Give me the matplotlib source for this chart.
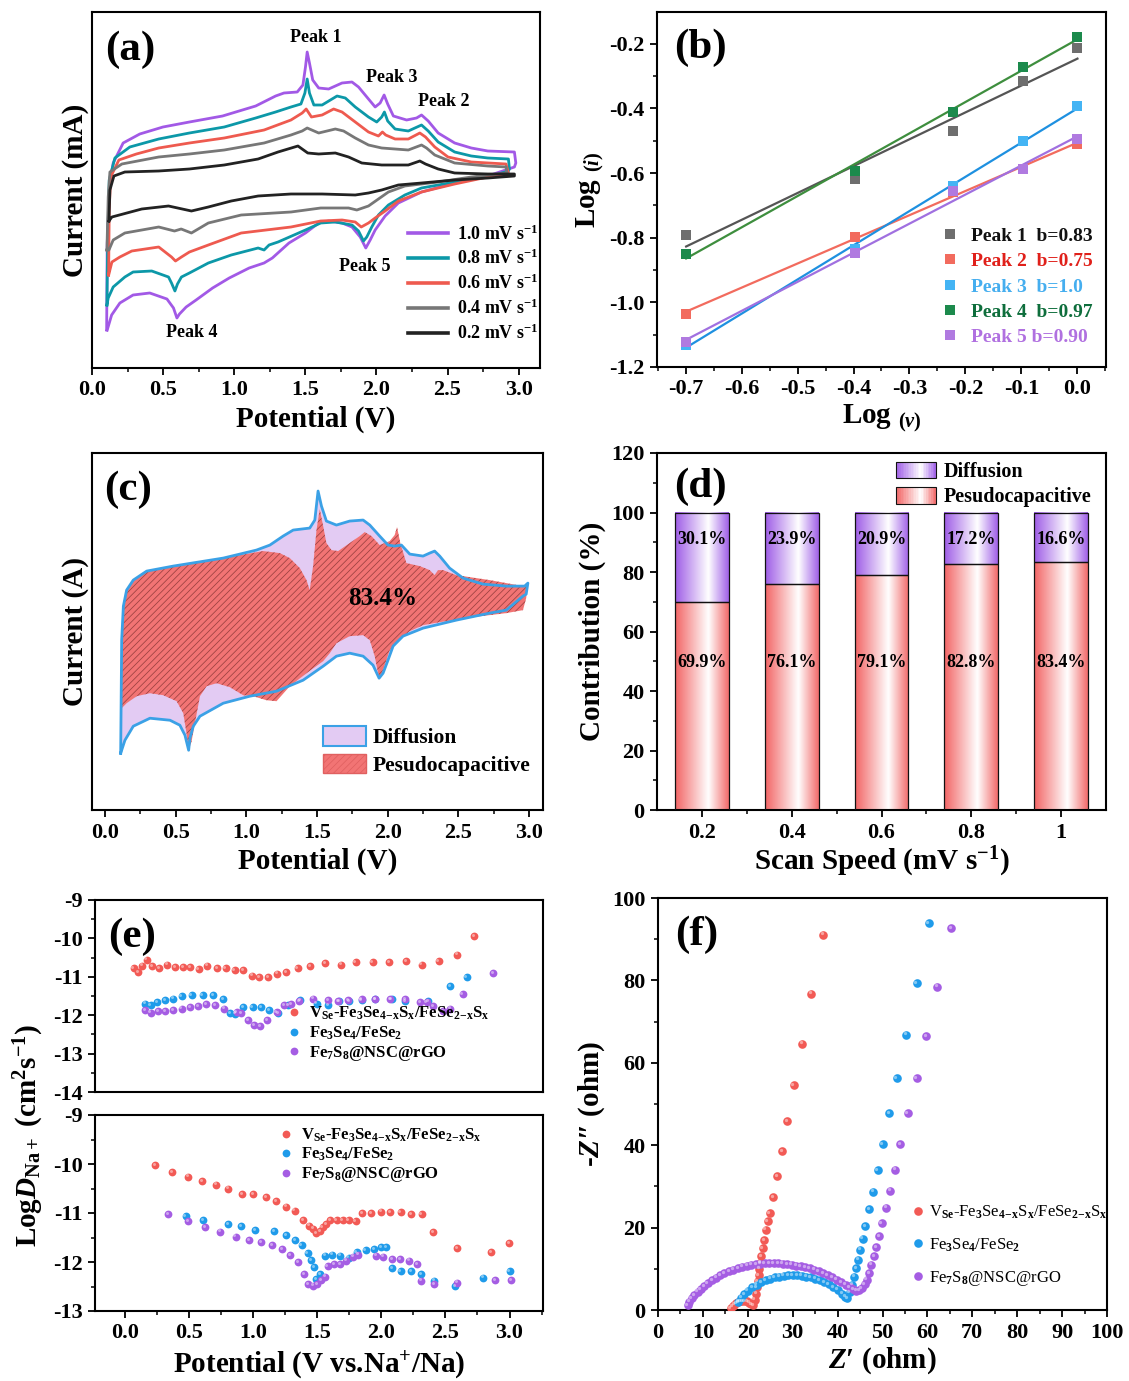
import numpy as np
import matplotlib
matplotlib.use('Agg')
import matplotlib.pyplot as plt
from matplotlib.colors import LinearSegmentedColormap
from matplotlib.patches import Rectangle, Patch
from matplotlib.legend_handler import HandlerBase
from matplotlib.ticker import MultipleLocator, FixedLocator
import matplotlib.transforms as mtransforms

plt.rcParams.update({
    'font.family': ['Liberation Serif', 'DejaVu Serif'],
    'font.weight': 'bold',
    'axes.labelweight': 'bold',
    'axes.unicode_minus': False,
    'mathtext.fontset': 'custom',
    'mathtext.rm': 'Liberation Serif:bold',
    'mathtext.it': 'Liberation Serif:italic:bold',
    'mathtext.bf': 'Liberation Serif:bold',
    'hatch.linewidth': 0.55,
    'axes.linewidth': 1.5,
})

# ---------------- (a) CV curves at different scan rates ----------------
cv_labels = ['1.0 mV s$^{-1}$', '0.8 mV s$^{-1}$', '0.6 mV s$^{-1}$', '0.4 mV s$^{-1}$', '0.2 mV s$^{-1}$']
cv10_v = [0.103,0.107,0.126,0.149,0.219,0.336,0.499,0.685,0.918,1.151,1.291,1.350,1.443,1.483,1.501,1.513,1.529,1.552,1.594,1.664,1.758,1.828,1.874,1.944,1.991,2.026,2.054,2.079,2.119,2.212,2.282,2.317,2.364,2.434,2.550,2.667,2.783,2.970,2.980,
          2.970,2.783,2.550,2.317,2.154,2.061,1.991,1.956,1.925,1.886,1.828,1.758,1.664,1.594,1.501,1.385,1.268,1.210,1.105,0.965,0.848,0.732,0.662,0.615,0.597,0.573,0.527,0.406,0.289,0.196,0.138,0.107]
cv10_i = [-0.50,0.37,0.97,1.17,1.37,1.46,1.53,1.58,1.64,1.74,1.84,1.87,1.88,1.95,2.13,2.28,2.17,2.00,1.92,1.91,1.97,1.98,1.93,1.81,1.73,1.77,1.85,1.76,1.64,1.60,1.62,1.65,1.59,1.47,1.37,1.32,1.29,1.28,1.17,
          1.13,1.04,0.97,0.88,0.77,0.64,0.50,0.40,0.32,0.43,0.53,0.57,0.59,0.57,0.47,0.37,0.22,0.17,0.12,0.02,-0.08,-0.20,-0.27,-0.34,-0.38,-0.28,-0.19,-0.13,-0.15,-0.23,-0.35,-0.50]
cv08_v = [0.105,0.110,0.121,0.161,0.266,0.469,0.685,0.930,1.151,1.291,1.399,1.469,1.497,1.513,1.529,1.560,1.618,1.723,1.781,1.851,1.944,2.002,2.037,2.056,2.079,2.131,2.224,2.317,2.364,2.434,2.550,2.667,2.783,2.928,2.935,
          2.928,2.783,2.550,2.317,2.200,2.084,2.014,1.967,1.932,1.909,1.874,1.828,1.711,1.608,1.501,1.308,1.245,1.210,1.168,0.979,0.818,0.685,0.629,0.601,0.583,0.559,0.538,0.420,0.289,0.231,0.149,0.114,0.105]
cv08_i = [-0.25,0.37,1.00,1.22,1.33,1.41,1.47,1.53,1.62,1.68,1.73,1.76,1.87,2.01,1.87,1.75,1.75,1.84,1.82,1.73,1.63,1.58,1.63,1.68,1.59,1.51,1.49,1.55,1.49,1.38,1.28,1.24,1.22,1.21,1.11,
          1.09,1.03,0.98,0.92,0.85,0.75,0.65,0.53,0.43,0.39,0.49,0.55,0.58,0.57,0.50,0.38,0.35,0.30,0.32,0.25,0.17,0.07,0.03,-0.04,-0.11,-0.03,0.03,0.09,0.08,0.03,-0.07,-0.18,-0.25]
cv06_v = [0.117,0.121,0.131,0.189,0.312,0.469,0.685,0.930,1.210,1.399,1.478,1.506,1.543,1.618,1.699,1.758,1.851,1.944,2.014,2.042,2.065,2.131,2.224,2.305,2.345,2.410,2.503,2.667,2.911,2.928,
          2.928,2.783,2.550,2.317,2.154,2.061,1.991,1.944,1.893,1.851,1.758,1.608,1.399,1.049,0.818,0.685,0.629,0.587,0.559,0.469,0.280,0.196,0.140,0.117]
cv06_i = [0.05,0.70,1.03,1.20,1.26,1.32,1.37,1.42,1.50,1.60,1.67,1.71,1.63,1.65,1.71,1.68,1.58,1.48,1.44,1.48,1.45,1.41,1.41,1.47,1.43,1.33,1.23,1.18,1.16,1.07,
          1.06,1.03,0.96,0.88,0.79,0.69,0.62,0.57,0.53,0.58,0.60,0.59,0.53,0.47,0.35,0.28,0.23,0.19,0.23,0.33,0.29,0.23,0.18,0.05]
cv04_v = [0.105,0.114,0.126,0.210,0.469,0.685,0.930,1.210,1.399,1.478,1.513,1.594,1.711,1.769,1.851,1.944,2.037,2.224,2.317,2.352,2.410,2.550,2.783,2.911,2.918,
          2.911,2.667,2.434,2.200,2.084,2.014,1.944,1.862,1.804,1.608,1.399,1.049,0.818,0.699,0.627,0.580,0.469,0.231,0.149,0.119,0.105]
cv04_i = [0.30,0.83,1.08,1.16,1.23,1.26,1.30,1.37,1.45,1.49,1.52,1.47,1.51,1.49,1.42,1.35,1.32,1.30,1.35,1.32,1.25,1.17,1.14,1.13,1.07,
          1.07,1.03,0.98,0.94,0.88,0.81,0.74,0.70,0.72,0.72,0.68,0.65,0.57,0.47,0.51,0.49,0.53,0.47,0.40,0.30,0.30]
cv02_v = [0.119,0.126,0.154,0.231,0.469,0.685,0.930,1.168,1.308,1.448,1.517,1.594,1.711,1.804,1.897,2.037,2.224,2.305,2.345,2.434,2.550,2.783,2.970,
          2.970,2.783,2.550,2.317,2.154,2.037,1.944,1.851,1.618,1.399,1.168,0.979,0.818,0.699,0.538,0.350,0.140,0.119]
cv02_i = [0.59,0.90,1.04,1.08,1.09,1.11,1.15,1.21,1.28,1.34,1.27,1.26,1.27,1.23,1.17,1.15,1.15,1.19,1.16,1.11,1.07,1.06,1.06,
          1.04,1.02,1.00,0.97,0.95,0.90,0.87,0.85,0.86,0.86,0.84,0.79,0.73,0.69,0.74,0.71,0.63,0.59]
peak_names = ['Peak 1', 'Peak 3', 'Peak 2', 'Peak 5', 'Peak 4']

# ---------------- (b) log(i) vs log(v) ----------------
scan_rates = [0.2, 0.4, 0.6, 0.8, 1.0]
b_labels = ['Peak 1  b=0.83', 'Peak 2  b=0.75', 'Peak 3  b=1.0', 'Peak 4  b=0.97', 'Peak 5 b=0.90']
logi_p1 = [-0.793, -0.619, -0.469, -0.314, -0.213]
logi_p2 = [-1.035, -0.798, -0.658, -0.588, -0.510]
logi_p3 = [-1.131, -0.835, -0.640, -0.500, -0.393]
logi_p4 = [-0.851, -0.593, -0.410, -0.272, -0.179]
logi_p5 = [-1.123, -0.846, -0.655, -0.588, -0.495]

# ---------------- (c) capacitive contribution at 1.0 mV/s ----------------
c_total_v = [0.111,0.118,0.130,0.153,0.200,0.295,0.483,0.837,1.072,1.167,1.261,1.332,1.449,1.485,1.508,1.532,1.567,1.638,1.732,1.827,1.874,1.944,2.003,2.050,2.098,2.157,2.251,2.298,2.333,2.369,2.439,2.534,2.675,2.840,2.970,2.993,2.981,
             2.958,2.840,2.722,2.486,2.251,2.109,2.039,2.003,1.968,1.940,1.897,1.827,1.732,1.638,1.544,1.402,1.214,1.025,0.837,0.672,0.625,0.601,0.592,0.566,0.530,0.460,0.318,0.200,0.141,0.111]
c_total_i = [-0.80,0.33,0.67,0.83,0.93,1.02,1.07,1.15,1.23,1.28,1.37,1.43,1.45,1.53,1.82,1.67,1.52,1.48,1.52,1.53,1.48,1.37,1.28,1.27,1.28,1.19,1.17,1.20,1.22,1.17,1.05,0.95,0.89,0.87,0.87,0.90,0.79,
             0.77,0.63,0.60,0.53,0.45,0.37,0.27,0.13,0.00,-0.05,0.08,0.17,0.20,0.17,0.07,-0.07,-0.18,-0.23,-0.30,-0.43,-0.53,-0.65,-0.77,-0.62,-0.52,-0.47,-0.45,-0.53,-0.67,-0.80]
c_cap_v = [0.111,0.118,0.130,0.153,0.200,0.295,0.483,0.837,0.955,1.119,1.237,1.308,1.379,1.426,1.449,1.473,1.497,1.520,1.544,1.567,1.603,1.650,1.732,1.803,1.838,1.886,1.944,2.015,2.050,2.067,2.090,2.133,2.227,2.298,2.333,2.357,2.392,2.486,2.722,2.958,2.993,
           2.981,2.958,2.840,2.604,2.369,2.251,2.157,2.086,2.015,1.968,1.940,1.909,1.874,1.827,1.732,1.638,1.591,1.544,1.426,1.308,1.214,1.143,1.049,0.978,0.884,0.790,0.719,0.672,0.636,0.613,0.592,0.577,0.554,0.507,0.412,0.318,0.224,0.153,0.118,0.111]
c_cap_i = [-0.53,0.33,0.67,0.83,0.93,1.02,1.07,1.15,1.18,1.22,1.20,1.15,1.05,0.93,0.83,1.07,1.43,1.64,1.47,1.30,1.23,1.22,1.30,1.37,1.41,1.37,1.28,1.32,1.38,1.46,1.30,1.10,1.07,1.03,0.98,1.03,1.03,0.98,0.93,0.87,0.90,
           0.75,0.63,0.60,0.56,0.51,0.48,0.42,0.34,0.23,0.03,-0.05,0.17,0.33,0.38,0.37,0.30,0.20,0.12,0.00,-0.13,-0.28,-0.27,-0.23,-0.22,-0.14,-0.10,-0.13,-0.23,-0.50,-0.68,-0.77,-0.60,-0.40,-0.28,-0.22,-0.20,-0.23,-0.30,-0.35,-0.53]
c_percent = '83.4%'

# ---------------- (d) contribution bars ----------------
speeds = ['0.2', '0.4', '0.6', '0.8', '1']
pseudo = [69.9, 76.1, 79.1, 82.8, 83.4]
diffusion = [30.1, 23.9, 20.9, 17.2, 16.6]

# ---------------- (e) GITT diffusion coefficients ----------------
e_names = [r'V$_{\mathrm{Se}}$-Fe$_{\mathrm{3}}$Se$_{\mathrm{4}}$$_{\mathrm{-x}}$S$_{\mathrm{x}}$/FeSe$_{\mathrm{2}}$$_{\mathrm{-x}}$S$_{\mathrm{x}}$',
           r'Fe$_{\mathrm{3}}$Se$_{\mathrm{4}}$/FeSe$_{\mathrm{2}}$',
           r'Fe$_{\mathrm{7}}$S$_{\mathrm{8}}$@NSC@rGO']
e1_red_v = [0.068,0.101,0.137,0.170,0.211,0.266,0.329,0.389,0.452,0.507,0.575,0.644,0.718,0.786,0.855,0.923,0.992,1.049,1.118,1.186,1.260,1.348,1.444,1.562,1.685,1.800,1.932,2.063,2.192,2.315,2.447,2.589,2.726]
e1_red_d = [-10.77,-10.88,-10.71,-10.55,-10.73,-10.77,-10.68,-10.75,-10.75,-10.75,-10.80,-10.71,-10.77,-10.77,-10.83,-10.83,-10.97,-11.01,-11.01,-10.92,-10.88,-10.77,-10.73,-10.64,-10.68,-10.62,-10.61,-10.61,-10.60,-10.68,-10.60,-10.42,-9.94]
e1_blue_v = [0.157,0.201,0.253,0.313,0.378,0.443,0.521,0.607,0.690,0.768,0.820,0.859,0.924,0.997,1.062,1.127,1.197,1.275,1.366,1.496,1.587,1.673,1.751,1.847,1.951,2.081,2.185,2.367,2.536,2.666]
e1_blue_d = [-11.70,-11.73,-11.65,-11.61,-11.57,-11.51,-11.48,-11.48,-11.48,-11.59,-11.94,-11.96,-11.79,-11.79,-11.79,-11.87,-11.94,-11.74,-11.61,-11.70,-11.73,-11.63,-11.63,-11.61,-11.59,-11.59,-11.63,-11.64,-11.25,-11.00]
e1_pur_v = [0.157,0.201,0.261,0.313,0.378,0.443,0.508,0.573,0.633,0.703,0.773,0.872,0.904,0.963,1.007,1.054,1.111,1.184,1.241,1.296,1.358,1.470,1.587,1.665,1.743,1.847,1.951,2.068,2.185,2.302,2.354,2.406,2.484,2.536,2.635,2.874]
e1_pur_d = [-11.87,-11.93,-11.89,-11.89,-11.87,-11.83,-11.79,-11.77,-11.72,-11.74,-11.83,-11.92,-11.94,-12.13,-12.26,-12.28,-12.13,-11.92,-11.74,-11.72,-11.63,-11.57,-11.60,-11.63,-11.61,-11.59,-11.59,-11.59,-11.59,-11.65,-11.65,-11.77,-11.89,-11.83,-11.46,-10.91]
e2_red_v = [0.238,0.370,0.493,0.603,0.712,0.808,0.912,1.000,1.101,1.178,1.260,1.323,1.392,1.438,1.471,1.493,1.521,1.542,1.570,1.603,1.652,1.699,1.745,1.800,1.849,1.918,2.000,2.068,2.151,2.233,2.315,2.403,2.589,2.858,2.995]
e2_red_d = [-10.03,-10.16,-10.26,-10.35,-10.42,-10.50,-10.61,-10.61,-10.68,-10.76,-10.87,-10.95,-11.15,-11.26,-11.32,-11.41,-11.37,-11.29,-11.22,-11.15,-11.15,-11.15,-11.15,-11.17,-11.00,-11.00,-10.97,-10.98,-10.98,-11.02,-11.02,-11.39,-11.71,-11.80,-11.62]
e2_blue_v = [0.474,0.611,0.808,0.904,1.014,1.164,1.260,1.329,1.378,1.425,1.452,1.474,1.493,1.521,1.562,1.616,1.679,1.745,1.808,1.877,1.945,2.000,2.036,2.082,2.151,2.233,2.310,2.411,2.575,2.795,3.000]
e2_blue_d = [-11.07,-11.14,-11.22,-11.27,-11.35,-11.37,-11.45,-11.55,-11.65,-11.82,-11.96,-12.11,-12.35,-12.25,-11.87,-11.85,-11.87,-11.91,-11.80,-11.76,-11.74,-11.69,-11.69,-12.13,-12.18,-12.19,-12.25,-12.38,-12.49,-12.32,-12.19]
e2_pur_v = [0.337,0.493,0.625,0.745,0.863,0.967,1.060,1.151,1.225,1.290,1.351,1.397,1.427,1.466,1.499,1.529,1.562,1.581,1.630,1.679,1.726,1.781,1.822,1.959,2.014,2.082,2.145,2.219,2.282,2.310,2.411,2.589,2.890,3.014]
e2_pur_d = [-11.03,-11.17,-11.29,-11.38,-11.48,-11.55,-11.60,-11.66,-11.73,-11.86,-12.00,-12.25,-12.45,-12.48,-12.45,-12.37,-12.30,-12.08,-12.04,-12.05,-11.97,-11.89,-11.85,-11.87,-11.89,-11.94,-11.94,-11.97,-12.04,-12.38,-12.45,-12.42,-12.37,-12.37]

# ---------------- (f) Nyquist plots ----------------
f_red_x = [16.2,16.6,17.0,17.4,17.8,18.3,18.8,19.3,19.8,20.3,20.8,21.2,21.5,21.8,22.0,22.2,22.4,22.6,22.8,23.0,23.3,23.6,24.0,24.4,24.9,25.6,26.5,27.6,28.8,30.2,32.1,34.1,36.8]
f_red_y = [0.5,0.9,1.3,1.6,1.9,2.1,2.2,2.2,2.1,1.8,1.4,1.2,2.5,4.0,5.5,7.0,8.5,10.0,11.5,13.0,15.0,17.0,19.5,21.5,23.5,27.4,32.5,38.6,45.9,54.5,64.6,76.8,91.1]
f_blue_x = [17.9,18.5,19.2,20.0,21.0,22.0,23.0,24.0,25.0,26.0,27.0,28.0,29.0,30.0,31.0,32.0,33.0,34.0,35.0,36.0,37.0,38.0,39.0,40.0,41.0,41.7,42.1,42.7,43.3,43.7,44.1,44.6,45.0,45.6,46.2,47.1,47.9,48.9,50.0,51.5,53.2,55.3,57.6,60.3]
f_blue_y = [2.0,3.0,3.9,4.7,5.5,6.1,6.7,7.2,7.6,7.9,8.1,8.3,8.4,8.4,8.4,8.3,8.1,7.9,7.6,7.2,6.8,6.2,5.6,4.9,4.0,3.2,2.8,4.3,6.1,8.1,10.2,12.2,14.6,17.3,20.3,24.4,28.7,33.9,40.2,47.7,56.3,66.8,79.3,93.9]
f_pur_x = [6.6,7.0,7.5,8.1,8.8,9.5,10.3,11.1,12.0,12.9,13.8,14.8,15.8,16.8,17.8,18.8,19.8,20.8,21.8,22.8,23.8,24.8,25.8,26.8,27.8,28.8,29.8,30.8,31.8,32.8,33.8,34.8,35.8,36.8,37.8,38.8,39.8,40.8,41.8,42.7,43.5,44.2,44.8,45.4,46.0,46.5,47.0,47.5,48.1,48.6,49.2,49.8,50.8,51.7,52.8,54.0,55.6,57.6,59.7,62.2,65.3]
f_pur_y = [1.2,2.0,2.8,3.6,4.4,5.1,5.8,6.5,7.2,7.8,8.4,8.9,9.4,9.8,10.2,10.5,10.8,11.0,11.1,11.2,11.3,11.3,11.3,11.3,11.2,11.1,11.0,10.8,10.6,10.4,10.1,9.8,9.4,9.0,8.5,8.0,7.4,6.8,6.1,5.5,5.0,4.7,4.8,5.3,6.2,7.4,8.9,11.0,13.0,15.2,17.9,21.1,24.8,29.0,34.1,40.2,47.7,56.3,66.4,78.5,92.7]

# ======================================================================
W, H = 1129, 1381
fig = plt.figure(figsize=(W / 100, H / 100), dpi=100)


def box(x0, y0, x1, y1):
    return [x0 / W, 1 - y1 / H, (x1 - x0) / W, (y1 - y0) / H]


TICK = 16
LAB = 21


def style(ax, xmaj=None, xmin=None, ymaj=None, ymin=None, noy=False):
    ax.tick_params(which='major', direction='out', length=5, width=1.3, labelsize=TICK,
                   top=False, right=False, pad=4)
    ax.tick_params(which='minor', direction='out', length=3, width=1.1, top=False, right=False)
    if xmaj: ax.xaxis.set_major_locator(MultipleLocator(xmaj))
    if xmin: ax.xaxis.set_minor_locator(MultipleLocator(xmin))
    if ymaj: ax.yaxis.set_major_locator(MultipleLocator(ymaj))
    if ymin: ax.yaxis.set_minor_locator(MultipleLocator(ymin))
    if noy:
        ax.set_yticks([])
        ax.yaxis.set_minor_locator(FixedLocator([]))
    for lbl in ax.get_xticklabels() + ax.get_yticklabels():
        lbl.set_fontweight('bold')


def letter(ax, s, fx, fy):
    ax.text(fx, fy, s, transform=ax.transAxes, fontsize=31, fontweight='bold', ha='center', va='center')


# ---------------- (a) ----------------
axa = fig.add_axes(box(92, 12, 540, 368))
cv_colors = ['#A259E6', '#0C98A8', '#EE5A4F', '#777777', '#222222']
cv_data = [(cv10_v, cv10_i), (cv08_v, cv08_i), (cv06_v, cv06_i), (cv04_v, cv04_i), (cv02_v, cv02_i)]
for (v, i), col, lab in zip(cv_data, cv_colors, cv_labels):
    axa.plot(v, i, color=col, lw=2.0, label=lab, solid_joinstyle='round')
axa.set_xlim(0.0, 3.15)
axa.set_ylim(-0.88, 2.68)
style(axa, 0.5, 0.25, noy=True)
axa.set_xlabel('Potential (V)', fontsize=LAB, labelpad=4)
axa.set_ylabel('Current (mA)', fontsize=LAB, labelpad=2)
peak_pos = [(1.573, 2.42), (2.105, 2.02), (2.476, 1.78), (1.916, 0.13), (0.70, -0.53)]
for name, (px, py) in zip(peak_names, peak_pos):
    axa.text(px, py, name, fontsize=13, fontweight='bold', ha='center', va='center')
leg = axa.legend(loc='lower right', bbox_to_anchor=(1.02, 0.04), frameon=False, fontsize=13,
                 handlelength=2.2, labelspacing=0.3, handletextpad=0.5, borderaxespad=0.2)
for l in leg.get_lines():
    l.set_linewidth(2.6)
letter(axa, '(a)', 0.085, 0.893)

# ---------------- (b) ----------------
axb = fig.add_axes(box(657, 12, 1106, 367))
logv = np.log10(scan_rates)
b_series = [logi_p1, logi_p2, logi_p3, logi_p4, logi_p5]
b_mcol = ['#6E6E6E', '#F26B5E', '#44B4F4', '#1C8A4C', '#B07AE0']
b_lcol = ['#555555', '#F26B5E', '#1E90E0', '#3E8E3E', '#A070E0']
b_tcol = ['#111111', '#E0201A', '#45AEEF', '#0E6E3C', '#B070E0']
handles = []
for ys, mc, lc, lab in zip(b_series, b_mcol, b_lcol, b_labels):
    k, c = np.polyfit(logv, ys, 1)
    xx = np.array([logv.min(), logv.max()])
    axb.plot(xx, k * xx + c, color=lc, lw=1.6, zorder=2)
    h, = axb.plot(logv, ys, 's', color=mc, ms=6.5, mew=0, zorder=3, label=lab)
    handles.append(h)
axb.set_xlim(-0.751, 0.051)
axb.set_ylim(-1.2, -0.102)
style(axb, 0.1, 0.05, 0.2, 0.1)
axb.set_xlabel(r'Log $_{(\mathit{v})}$', fontsize=LAB, labelpad=2)
axb.set_ylabel(r'Log $_{(\mathit{i})}$', fontsize=LAB, labelpad=2)
legb = axb.legend(handles=handles, loc='lower right', bbox_to_anchor=(1.0, 0.02), frameon=False,
                  fontsize=14, handlelength=0.9, handletextpad=0.6, labelspacing=0.40, borderaxespad=0.3)
for t, col in zip(legb.get_texts(), b_tcol):
    t.set_color(col)
letter(axb, '(b)', 0.096, 0.899)

# ---------------- (c) ----------------
axc = fig.add_axes(box(92, 453, 543, 810))
axc.fill(c_total_v, c_total_i, facecolor='#E3CBF3', edgecolor='none', zorder=1)
axc.fill(c_cap_v, c_cap_i, facecolor='#F27474', edgecolor='none', zorder=2)
axc.fill(c_cap_v, c_cap_i, facecolor='none', edgecolor='#9A4040', hatch='/////', lw=0, zorder=3)
axc.plot(c_total_v, c_total_i, color='#3BA1E6', lw=2.0, zorder=4)
axc.text(1.968, 0.75, c_percent, fontsize=18, fontweight='bold', ha='center', va='center', zorder=5)
axc.set_xlim(-0.092, 3.10)
axc.set_ylim(-1.367, 2.2)
style(axc, 0.5, 0.25, noy=True)
axc.set_xlabel('Potential (V)', fontsize=LAB, labelpad=4)
axc.set_ylabel('Current (A)', fontsize=LAB, labelpad=2)
hd = Patch(facecolor='#E3CBF3', edgecolor='#3BA1E6', lw=1.5)
hp = Patch(facecolor='#F27474', edgecolor='#E06060', hatch='/////', lw=1.0)
axc.legend([hd, hp], ['Diffusion', 'Pesudocapacitive'], loc='lower right', bbox_to_anchor=(1.0, 0.06),
           frameon=False, fontsize=15.5, handlelength=2.0, handleheight=1.0, labelspacing=0.25,
           handletextpad=0.3, borderaxespad=0.2)
letter(axc, '(c)', 0.08, 0.896)

# ---------------- (d) ----------------
axd = fig.add_axes(box(657, 453, 1106, 810))
xpos = np.arange(len(speeds))
cm_red = LinearSegmentedColormap.from_list('r', [(0, '#F26464'), (0.62, '#FFFFFF'), (1, '#F26A6A')])
cm_pur = LinearSegmentedColormap.from_list('p', [(0, '#9E5CE6'), (0.62, '#FFFFFF'), (1, '#A060E8')])
grad = np.linspace(0, 1, 256)[None, :]
bp = axd.bar(xpos, pseudo, width=0.6, facecolor='none', edgecolor='#111111', lw=0.9, zorder=3)
bd = axd.bar(xpos, diffusion, bottom=pseudo, width=0.6, facecolor='none', edgecolor='#111111', lw=0.9, zorder=3)
for rects, cm in ((bp, cm_red), (bd, cm_pur)):
    for r in rects:
        x0, y0, w, h = r.get_x(), r.get_y(), r.get_width(), r.get_height()
        axd.imshow(grad, extent=[x0, x0 + w, y0, y0 + h], cmap=cm, aspect='auto',
                   interpolation='bilinear', zorder=2)
for xi, p, d in zip(xpos, pseudo, diffusion):
    axd.text(xi, 49.5, f'{p}%', fontsize=13, fontweight='bold', ha='center', va='center', zorder=4)
    axd.text(xi, 91, f'{d}%', fontsize=13, fontweight='bold', ha='center', va='center', zorder=4)
axd.set_xlim(-0.5, 4.5)
axd.set_ylim(0, 120)
axd.set_xticks(xpos)
axd.set_xticklabels(speeds)
axd.xaxis.set_minor_locator(FixedLocator(xpos[:-1] + 0.5))
style(axd, ymaj=20, ymin=10)
axd.set_xlabel('Scan Speed (mV s$^{-1}$)', fontsize=LAB, labelpad=2)
axd.set_ylabel('Contribution (%)', fontsize=LAB, labelpad=4)


class GradHandler(HandlerBase):
    def __init__(self, cmap):
        super().__init__()
        self.cmap = cmap

    def create_artists(self, legend, orig_handle, xdescent, ydescent, width, height, fontsize, trans):
        n = 24
        arts = []
        for k in range(n):
            arts.append(Rectangle((-xdescent + k * width / n, -ydescent), width / n, height,
                                  facecolor=self.cmap((k + 0.5) / n), edgecolor='none', transform=trans))
        arts.append(Rectangle((-xdescent, -ydescent), width, height, facecolor='none',
                              edgecolor='#111111', lw=0.8, transform=trans))
        return arts


hdd, hpp = Patch(), Patch()
axd.legend([hdd, hpp], ['Diffusion', 'Pesudocapacitive'], loc='upper right', bbox_to_anchor=(1.0, 1.015),
           frameon=False, fontsize=14.5, handlelength=2.0, handleheight=0.9, labelspacing=0.25,
           handletextpad=0.4, borderaxespad=0.3,
           handler_map={hdd: GradHandler(cm_pur), hpp: GradHandler(cm_red)})
letter(axd, '(d)', 0.096, 0.905)


# ---------------- sphere-like markers ----------------
def spheres(ax, x, y, color, ms, label=None):
    ax.plot(x, y, 'o', color=color, ms=ms, mew=0, label=label, zorder=3)
    tr = mtransforms.offset_copy(ax.transData, fig=fig, x=-ms * 0.16, y=ms * 0.16, units='points')
    ax.plot(x, y, 'o', color='white', alpha=0.45, ms=ms * 0.38, mew=0, transform=tr, zorder=4)


e_cols = ['#F25A55', '#1F9BEA', '#A55DE3']

# ---------------- (e) ----------------
axe1 = fig.add_axes(box(95, 900, 543, 1092))
axe2 = fig.add_axes(box(95, 1115, 543, 1311))
for ax, sets in ((axe1, [(e1_red_v, e1_red_d), (e1_blue_v, e1_blue_d), (e1_pur_v, e1_pur_d)]),
                 (axe2, [(e2_red_v, e2_red_d), (e2_blue_v, e2_blue_d), (e2_pur_v, e2_pur_d)])):
    for (v, d), col, nm in zip(sets, e_cols, e_names):
        spheres(ax, v, d, col, 5.6, nm)
    ax.set_xlim(-0.233, 3.261)
axe1.set_ylim(-14, -9)
axe2.set_ylim(-13, -9)
style(axe1, 0.5, 0.25, 1, 0.5)
style(axe2, 0.5, 0.25, 1, 0.5)
axe1.tick_params(which='both', bottom=False, labelbottom=False)
axe2.set_xlabel('Potential (V vs.Na$^{+}$/Na)', fontsize=LAB, labelpad=4)
fig.text(0.026, 0.178, r'Log$\mathit{D}_{\mathrm{Na+}}$ (cm$^{2}$s$^{-1}$)', rotation=90,
         fontsize=LAB, fontweight='bold', ha='center', va='center')
axe1.legend(loc='lower left', bbox_to_anchor=(0.41, 0.10), frameon=False, fontsize=12,
            handlelength=0.6, handletextpad=0.6, labelspacing=0.12, borderaxespad=0.2)
axe2.legend(loc='upper left', bbox_to_anchor=(0.39, 1.0), frameon=False, fontsize=12,
            handlelength=0.6, handletextpad=0.6, labelspacing=0.12, borderaxespad=0.3)
letter(axe1, '(e)', 0.083, 0.807)

# ---------------- (f) ----------------
axf = fig.add_axes(box(658, 898, 1107, 1310))
for (x, y), col, nm in zip([(f_red_x, f_red_y), (f_blue_x, f_blue_y), (f_pur_x, f_pur_y)], e_cols, e_names):
    spheres(axf, x, y, col, 6.2, nm)
axf.set_xlim(0, 100)
axf.set_ylim(0, 100)
style(axf, 10, 5, 20, 10)
axf.set_xlabel("$Z$\u2032 (ohm)", fontsize=LAB, labelpad=2)
axf.set_ylabel("-$Z$\u2033 (ohm)", fontsize=LAB, labelpad=4)
legf = axf.legend(loc='lower left', bbox_to_anchor=(0.545, 0.03), frameon=False, fontsize=12,
                  handlelength=0.6, handletextpad=0.4, labelspacing=0.9, borderaxespad=0.2)
for t in legf.get_texts():
    t.set_fontweight('normal')
letter(axf, '(f)', 0.087, 0.91)

fig.savefig('out.png', dpi=100)
